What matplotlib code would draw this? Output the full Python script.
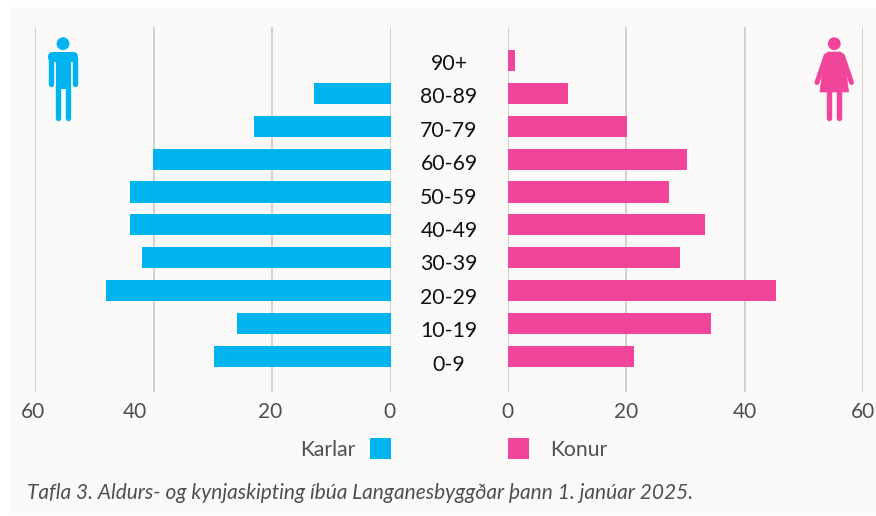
import matplotlib
matplotlib.use("Agg")
import matplotlib.pyplot as plt
from matplotlib.patches import Rectangle, Circle, Polygon, FancyBboxPatch
from matplotlib.lines import Line2D
from matplotlib.transforms import ScaledTranslation

plt.rcParams['font.family'] = ['Lato', 'DejaVu Sans']

age_groups = ['0-9', '10-19', '20-29', '30-39', '40-49', '50-59', '60-69', '70-79', '80-89', '90+']
karlar = [29.8, 25.9, 48.0, 42.0, 44.0, 44.0, 40.1, 23.0, 12.9, 0]
konur = [21.3, 34.4, 45.3, 29.1, 33.3, 27.2, 30.3, 20.2, 10.2, 1.3]
x_ticks = [0, 20, 40, 60]
caption = 'Tafla 3. Aldurs- og kynjaskipting íbúa Langanesbyggðar þann 1. janúar 2025.'

W, H = 876, 516
BLUE, PINK = '#00B5EF', '#F0459A'
PANEL, GRID, TICK = '#FBFAF8', '#D2D1CF', '#4F4F4F'

fig = plt.figure(figsize=(W / 100, H / 100), dpi=100, facecolor='white')

bg = fig.add_axes([0, 0, 1, 1], zorder=0)
bg.set_xlim(0, W); bg.set_ylim(H, 0); bg.axis('off')
bg.add_patch(Rectangle((9, 7), W - 9, 508, fc=PANEL, ec='none'))

def make_axes(x0, x1, reverse):
    ax = fig.add_axes([x0 / W, 1 - 392 / H, (x1 - x0) / W, (392 - 27) / H], zorder=1)
    ax.patch.set_alpha(0)
    ax.set_xlim((60, 0) if reverse else (0, 60))
    ax.set_xticks(x_ticks)
    ax.tick_params(axis='x', length=0, pad=7, labelsize=15, labelcolor=TICK)
    ax.grid(axis='x', color=GRID, lw=1.4)
    ax.set_axisbelow(True)
    for s in ax.spines.values():
        s.set_visible(False)
    return ax

axL = make_axes(35, 390.5, True)
axR = make_axes(507.5, 863, False)
axL.barh(age_groups, karlar, height=0.64, color=BLUE, zorder=3)
axR.barh(age_groups, konur, height=0.64, color=PINK, zorder=3)
for ax in (axL, axR):
    ax.set_yticks([])
    ax.set_ylim(-1.079, 10.015)

# the left tick labels sit slightly off their gridlines in the original
for lab, dx in zip(axL.get_xticklabels(), [-1, -2, -19, -2]):
    lab.set_transform(lab.get_transform() + ScaledTranslation(dx / 100, 0, fig.dpi_scale_trans))

fg = fig.add_axes([0, 0, 1, 1], zorder=2)
fg.set_xlim(0, W); fg.set_ylim(H, 0); fg.axis('off'); fg.patch.set_alpha(0)

for i, lab in enumerate(age_groups):
    fg.text(449, 364.8 - i * 33.44, lab, ha='center', va='center', fontsize=15.3, color='#111111')

fg.add_patch(Rectangle((370, 438), 21, 21, fc=BLUE, ec='none'))
fg.add_patch(Rectangle((508, 438), 21, 21, fc=PINK, ec='none'))
fg.text(356, 450, 'Karlar', ha='right', va='center', fontsize=15.2, color=TICK)
fg.text(550, 450, 'Konur', ha='left', va='center', fontsize=15.2, color=TICK)
fg.text(27, 493, caption, ha='left', va='center', fontsize=15, style='italic', color=TICK)

def stroke(x, y, color, w):
    fg.add_line(Line2D(x, y, color=color, lw=w * 0.72, solid_capstyle='round', solid_joinstyle='round'))

# man icon
fg.add_patch(Circle((63, 43.7), 6.4, fc=BLUE, ec='none'))
fg.add_patch(FancyBboxPatch((48, 52), 30, 10, boxstyle='round,pad=0,rounding_size=5', fc=BLUE, ec='none'))
fg.add_patch(Rectangle((55.5, 56), 15, 33, fc=BLUE, ec='none'))
stroke([50.7, 50.7], [58, 83.5], BLUE, 5.4)
stroke([75.3, 75.3], [58, 83.5], BLUE, 5.4)
stroke([58, 58], [86, 117.5], BLUE, 5.4)
stroke([68.3, 68.3], [86, 117.5], BLUE, 5.4)

# woman icon
fg.add_patch(Circle((834.3, 43.7), 6.4, fc=PINK, ec='none'))
fg.add_patch(Polygon([(828, 52), (840.5, 52), (844, 55), (848.6, 92), (820, 92), (824.5, 55)],
                     closed=True, fc=PINK, ec=PINK, lw=0.5, joinstyle='round'))
stroke([826, 817], [56, 82.5], PINK, 5)
stroke([842.5, 851.5], [56, 82.5], PINK, 5)
stroke([829.3, 829.3], [90, 117.5], PINK, 5.4)
stroke([839.3, 839.3], [90, 117.5], PINK, 5.4)

fig.savefig('out.png', dpi=100, facecolor='white')
